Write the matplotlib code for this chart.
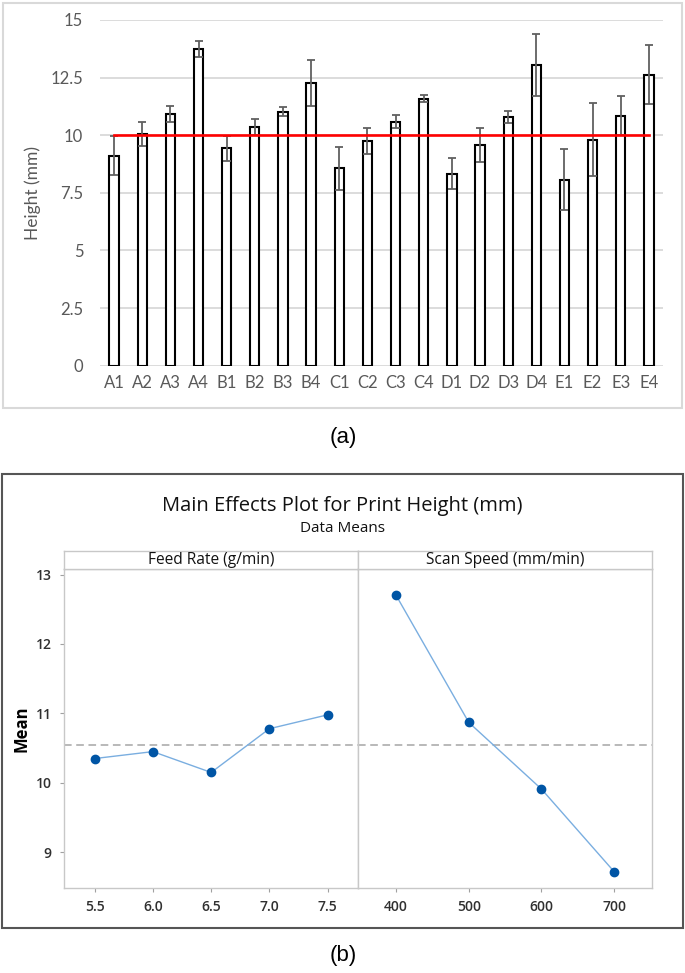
import matplotlib

matplotlib.use('Agg')

import matplotlib.pyplot as plt
import numpy as np
from matplotlib.patches import Rectangle

# (a) bar chart data
samples = ['A1', 'A2', 'A3', 'A4', 'B1', 'B2', 'B3', 'B4', 'C1', 'C2',
           'C3', 'C4', 'D1', 'D2', 'D3', 'D4', 'E1', 'E2', 'E3', 'E4']
heights = [9.12, 10.04, 10.92, 13.74, 9.44, 10.36, 11.02, 12.27, 8.56, 9.74,
           10.59, 11.58, 8.33, 9.56, 10.79, 13.06, 8.07, 9.81, 10.85, 12.62]
height_err = [0.85, 0.52, 0.34, 0.35, 0.54, 0.35, 0.20, 0.98, 0.94, 0.56,
              0.29, 0.15, 0.67, 0.74, 0.26, 1.35, 1.32, 1.57, 0.85, 1.28]
target_height = 10.0
height_ticks = [0, 2.5, 5, 7.5, 10, 12.5, 15]
height_tick_labels = ['0', '2.5', '5', '7.5', '10', '12.5', '15']

# (b) main effects data
feed_rates = [5.5, 6.0, 6.5, 7.0, 7.5]
feed_means = [10.35, 10.45, 10.15, 10.78, 10.98]
scan_speeds = [400, 500, 600, 700]
scan_means = [12.70, 10.87, 9.91, 8.72]
mean_ticks = [9, 10, 11, 12, 13]

W, H = 685, 973
fig = plt.figure(figsize=(W / 100, H / 100), dpi=100)


def fx(px):
    return px / W


def fy(py):
    return 1 - py / H


# ---------- (a) ----------
excel_font = 'Lato'
grey_txt = '#595959'

fig.patches.append(Rectangle((fx(3), fy(408)), fx(679), 405 / H, transform=fig.transFigure,
                             fill=False, edgecolor='#d9d9d9', linewidth=1.5))

ax = fig.add_axes([fx(100), fy(365.7), fx(563), 345.7 / H])
x = np.arange(len(samples))
ax.bar(x, heights, width=0.33, color='white', edgecolor='black', linewidth=1.5, zorder=2)
ax.errorbar(x, heights, yerr=height_err, fmt='none', ecolor='#606060', elinewidth=1.3,
            capsize=3.2, capthick=1.3, zorder=3)
ax.plot(x, np.full(len(x), target_height), color='#ff0000', linewidth=1.9, zorder=4)
ax.set_xlim(-0.5, len(samples) - 0.5)
ax.set_ylim(0, 15)
ax.set_yticks(height_ticks)
ax.set_yticklabels(height_tick_labels)
ax.set_xticks(x)
ax.set_xticklabels(samples)
ax.grid(axis='y', color='#d9d9d9', linewidth=1.3, zorder=0)
ax.set_axisbelow(True)
for s in ax.spines.values():
    s.set_visible(False)
ax.tick_params(length=0, labelsize=12, labelcolor=grey_txt)
ax.tick_params(axis='y', pad=12)
ax.tick_params(axis='x', pad=7)
for lab in ax.get_xticklabels() + ax.get_yticklabels():
    lab.set_fontfamily(excel_font)
ax.set_ylabel('Height (mm)', fontsize=12.5, color=grey_txt, family=excel_font, labelpad=7)

fig.text(fx(343), fy(437), '(a)', ha='center', va='center', fontsize=16,
         family='Liberation Sans')

# ---------- (b) ----------
mt_font = 'Open Sans'
frame_c = '#c8c8c8'
tick_txt = '#303030'

fig.patches.append(Rectangle((fx(1.5), fy(928)), fx(681.5), 454 / H, transform=fig.transFigure,
                             fill=False, edgecolor='#555555', linewidth=1.5))

fig.text(fx(342), fy(506), 'Main Effects Plot for Print Height (mm)', ha='center', va='center',
         fontsize=14.5, family=mt_font, fontweight='medium', color='#111111')
fig.text(fx(342), fy(528), 'Data Means', ha='center', va='center', fontsize=11,
         family=mt_font, fontweight='medium', color='#111111')

grand_mean = np.mean(scan_means)
panels = [
    (fx(64.3), feed_rates, feed_means, 'Feed Rate (g/min)', (5.24, 7.76),
     [f'{v:.1f}' for v in feed_rates]),
    (fx(358.3), scan_speeds, scan_means, 'Scan Speed (mm/min)', (348, 752),
     [str(v) for v in scan_speeds]),
]
pw = fx(293.7)
pb = fy(887.7)
ph = (887.7 - 569) / H
for i, (left, xs, ys, label, xlim, xlabels) in enumerate(panels):
    pax = fig.add_axes([left, pb, pw, ph])
    pax.plot(xs, ys, color='#7aaee0', linewidth=1.0, zorder=2)
    pax.plot(xs, ys, 'o', color='#0055a5', markersize=6, zorder=3)
    pax.axhline(grand_mean, color='#a6a6a6', linestyle=(0, (5, 3)), linewidth=1.1, zorder=1)
    pax.set_xlim(*xlim)
    pax.set_ylim(8.49, 13.08)
    pax.set_xticks(xs)
    pax.set_xticklabels(xlabels)
    pax.set_yticks(mean_ticks)
    for s in pax.spines.values():
        s.set_color(frame_c)
        s.set_linewidth(1.0)
    pax.tick_params(direction='out', length=3, color='#a0a0a0', labelsize=10,
                    labelcolor=tick_txt, pad=6)
    for lab in pax.get_xticklabels() + pax.get_yticklabels():
        lab.set_fontfamily(mt_font)
        lab.set_fontweight('semibold')
    if i == 0:
        pax.set_ylabel('Mean', fontsize=12, fontweight='bold', family=mt_font, labelpad=4)
    else:
        pax.tick_params(axis='y', left=False, labelleft=False)

    sax = fig.add_axes([left, fy(569), pw, 18 / H])
    sax.set_xticks([])
    sax.set_yticks([])
    for s in sax.spines.values():
        s.set_color(frame_c)
        s.set_linewidth(1.0)
    sax.text(0.5, 0.5, label, transform=sax.transAxes, ha='center', va='center',
             fontsize=11.2, family=mt_font, fontweight='medium', color='#111111')

fig.text(fx(343), fy(955), '(b)', ha='center', va='center', fontsize=16,
         family='Liberation Sans')

fig.savefig('out.png', dpi=100)
